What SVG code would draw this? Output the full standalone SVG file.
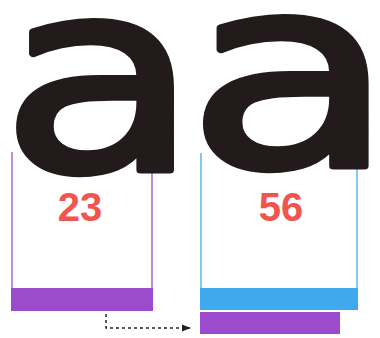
<svg xmlns="http://www.w3.org/2000/svg" width="380" height="338" viewBox="0 0 380 338">
<style>
.glyph{font-family:"DejaVu Sans",sans-serif;font-weight:normal;font-size:265px;fill:#231a1b;stroke:#231a1b;stroke-width:7;stroke-linejoin:round;text-anchor:middle}
.num{font-family:"Liberation Sans",Arial,sans-serif;font-weight:bold;font-size:40px;fill:#f0554e;text-anchor:middle}
.lp{stroke:#a46ad6;stroke-width:1.5;fill:none}
.lb{stroke:#5ab4ee;stroke-width:1.5;fill:none}
</style>
<defs>
<marker id="ah" viewBox="0 0 10 10" refX="9" refY="5" markerWidth="6" markerHeight="6" orient="auto">
<path d="M0,1 L10,5 L0,9 z" fill="#222"/>
</marker>
</defs>
<rect width="380" height="338" fill="#ffffff"/>
<g id="left">
<line class="lp" x1="12" y1="152" x2="12" y2="290"/>
<line class="lp" x1="152" y1="85" x2="152" y2="290"/>
<rect x="11" y="288" width="142" height="23" fill="#9a4ccc"/>
<text class="glyph" transform="translate(100,0) scale(1.22,1)" x="0" y="170">a</text>
<text class="num" x="80" y="221">23</text>
</g>
<g id="right">
<line class="lb" x1="201" y1="153" x2="201" y2="290"/>
<line class="lb" x1="357" y1="100" x2="357" y2="290"/>
<rect x="200" y="288" width="158" height="22" fill="#3fa9ee"/>
<text class="glyph" transform="translate(291,0) scale(1.28,1)" x="0" y="166">a</text>
<text class="num" x="281" y="221">56</text>
</g>
<g id="moved">
<rect x="200" y="312" width="140" height="22" fill="#9a4ccc"/>
</g>
<g id="connectors">
<path d="M106,314 L106,328 L190,328" fill="none" stroke="#222" stroke-width="1.5" stroke-dasharray="3,3" marker-end="url(#ah)"/>
</g>
</svg>
